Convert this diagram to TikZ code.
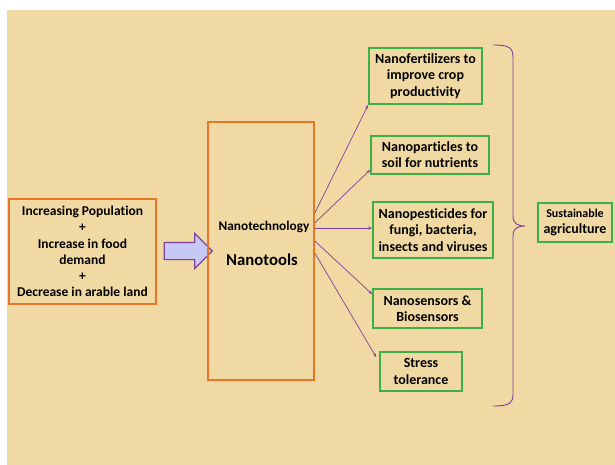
\documentclass[tikz,border=0pt]{standalone}
\usepackage{fontspec}
\setmainfont{Carlito}[Ligatures=NoCommon]
\usetikzlibrary{arrows.meta,shapes.arrows}
\definecolor{papyrus}{RGB}{240,217,163}
\definecolor{boxorange}{RGB}{232,118,40}
\definecolor{boxgreen}{RGB}{60,176,70}
\definecolor{linkpurple}{RGB}{128,64,160}
\definecolor{arrowfill}{RGB}{200,200,245}
\tikzset{
  causebox/.style={draw=boxorange,line width=2pt,align=center,inner sep=0pt,font=\bfseries\fontsize{13.5}{16.3}\selectfont},
  toolbox/.style={draw=boxgreen,line width=1.6pt,align=center,inner sep=0pt,font=\bfseries\fontsize{14}{16.2}\selectfont},
  link/.style={linkpurple,line width=0.7pt,-{Stealth[length=4pt,width=3pt]}}
}
\begin{document}
\begin{tikzpicture}[x=1pt,y=-1pt]
  \useasboundingbox (0,0) rectangle (615,465);
  \fill[white] (0,0) rectangle (615,465);
  \fill[papyrus] (7,10) rectangle (615,465);
  % causes
  \node[causebox,minimum width=147pt,minimum height=105pt] (causes) at (82.5,251.5)
    {Increasing Population\\+\\Increase in food\\demand\\+\\Decrease in arable land};
  \node[single arrow,draw=linkpurple,fill=arrowfill,line width=1.2pt,inner sep=8pt,
    single arrow head extend=9pt,minimum height=48pt] (bigarrow) at (184,251) {};
  % nanotechnology
  \node[draw=boxorange,line width=1.6pt,minimum width=106pt,minimum height=258pt] (nanobox) at (261,251) {};
  \node[font=\bfseries\fontsize{13.3}{15}\selectfont] (nanotech) at (264,227) {Nanotechnology};
  \node[font=\bfseries\fontsize{16.7}{19}\selectfont] (nanotools) at (262,260) {Nanotools};
  % tools
  \node[toolbox,minimum width=113pt,minimum height=56pt] (fert) at (425.5,76)
    {Nanofertilizers to\\improve crop\\productivity};
  \node[toolbox,minimum width=118pt,minimum height=38pt] (part) at (430,155)
    {Nanoparticles to\\soil for nutrients};
  \node[toolbox,minimum width=120pt,minimum height=56pt] (pest) at (433,230)
    {Nanopesticides for\\fungi, bacteria,\\insects and viruses};
  \node[toolbox,minimum width=109pt,minimum height=39pt] (sens) at (427.5,308.5)
    {Nanosensors \&\\Biosensors};
  \node[toolbox,minimum width=82pt,minimum height=39pt] (stress) at (421,371.5)
    {Stress\\tolerance};
  \node[toolbox,minimum width=74pt,minimum height=39pt] (sustain) at (575,222.5)
    {{\fontsize{12}{16.2}\selectfont Sustainable}\\agriculture};
  % links
  \draw[link] ([yshift=38pt]nanobox.east) -- (fert.south west);
  \draw[link] ([yshift=28pt]nanobox.east) -- ([yshift=5pt]part.south west);
  \draw[link] ([yshift=23pt]nanobox.east) -- ([yshift=2pt]pest.west);
  \draw[link] ([yshift=10pt]nanobox.east) -- ([yshift=-6pt]sens.north west);
  \draw[link] ([yshift=-2pt]nanobox.east) -- ([xshift=-3pt,yshift=-6pt]stress.north west);
  % brace
  \coordinate (bracetop) at (493,45);
  \coordinate (bracetip) at (525,226);
  \coordinate (bracebot) at (493,406);
  \draw[linkpurple,line width=0.9pt] (bracetop) .. controls (510,45) and (513,48) .. (513,58)
    -- (513,216) .. controls (513,224) and (518,226) .. (bracetip)
    .. controls (518,226) and (513,228) .. (513,236)
    -- (513,394) .. controls (513,403) and (510,406) .. (bracebot);
\end{tikzpicture}
\end{document}
